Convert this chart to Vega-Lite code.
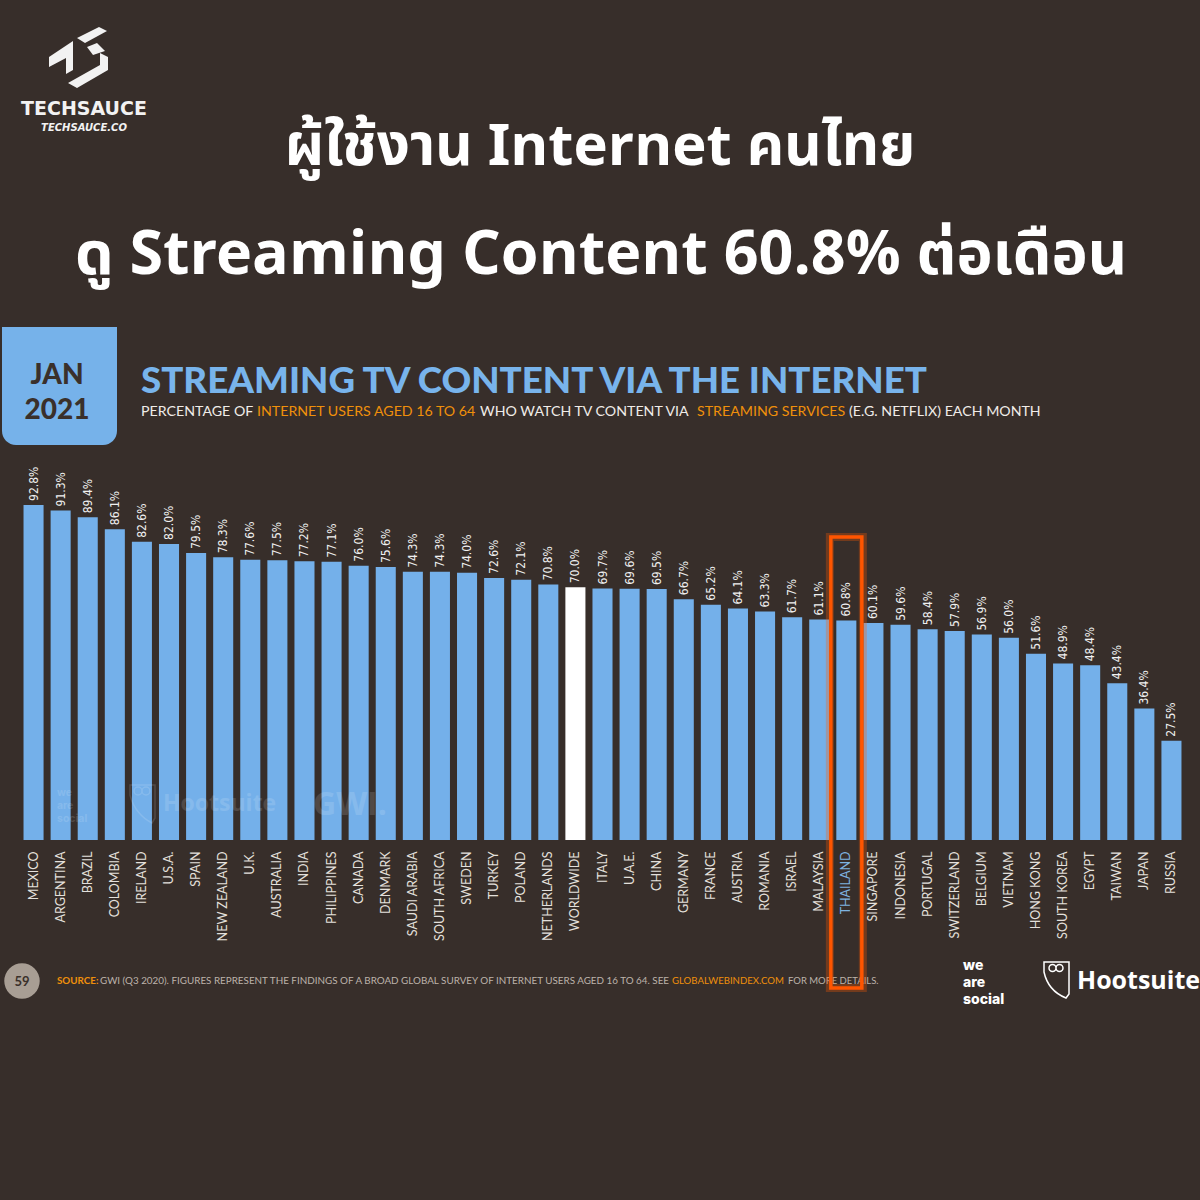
{
  "$schema": "https://vega.github.io/schema/vega-lite/v6.json",
  "autosize": {"type": "none"},
  "width": 1165,
  "height": 361,
  "padding": {"left": 20, "top": 479, "right": 15, "bottom": 360},
  "background": "#372e2a",
  "config": {"view": {"stroke": null}},
  "datasets": {
    "streaming": [
      {"country": "MEXICO", "pct": 0.928},
      {"country": "ARGENTINA", "pct": 0.913},
      {"country": "BRAZIL", "pct": 0.894},
      {"country": "COLOMBIA", "pct": 0.861},
      {"country": "IRELAND", "pct": 0.826},
      {"country": "U.S.A.", "pct": 0.820},
      {"country": "SPAIN", "pct": 0.795},
      {"country": "NEW ZEALAND", "pct": 0.783},
      {"country": "U.K.", "pct": 0.776},
      {"country": "AUSTRALIA", "pct": 0.775},
      {"country": "INDIA", "pct": 0.772},
      {"country": "PHILIPPINES", "pct": 0.771},
      {"country": "CANADA", "pct": 0.760},
      {"country": "DENMARK", "pct": 0.756},
      {"country": "SAUDI ARABIA", "pct": 0.743},
      {"country": "SOUTH AFRICA", "pct": 0.743},
      {"country": "SWEDEN", "pct": 0.740},
      {"country": "TURKEY", "pct": 0.726},
      {"country": "POLAND", "pct": 0.721},
      {"country": "NETHERLANDS", "pct": 0.708},
      {"country": "WORLDWIDE", "pct": 0.700},
      {"country": "ITALY", "pct": 0.697},
      {"country": "U.A.E.", "pct": 0.696},
      {"country": "CHINA", "pct": 0.695},
      {"country": "GERMANY", "pct": 0.667},
      {"country": "FRANCE", "pct": 0.652},
      {"country": "AUSTRIA", "pct": 0.641},
      {"country": "ROMANIA", "pct": 0.633},
      {"country": "ISRAEL", "pct": 0.617},
      {"country": "MALAYSIA", "pct": 0.611},
      {"country": "THAILAND", "pct": 0.608},
      {"country": "SINGAPORE", "pct": 0.601},
      {"country": "INDONESIA", "pct": 0.596},
      {"country": "PORTUGAL", "pct": 0.584},
      {"country": "SWITZERLAND", "pct": 0.579},
      {"country": "BELGIUM", "pct": 0.569},
      {"country": "VIETNAM", "pct": 0.560},
      {"country": "HONG KONG", "pct": 0.516},
      {"country": "SOUTH KOREA", "pct": 0.489},
      {"country": "EGYPT", "pct": 0.484},
      {"country": "TAIWAN", "pct": 0.434},
      {"country": "JAPAN", "pct": 0.364},
      {"country": "RUSSIA", "pct": 0.275}
    ]
  },
  "layer": [
    {
      "data": {"name": "streaming"},
      "mark": {"type": "bar"},
      "encoding": {
        "x": {
          "field": "country", "type": "nominal", "sort": null,
          "scale": {"paddingInner": 0.26, "paddingOuter": 0.13},
          "axis": {
            "title": null, "domain": false, "ticks": false, "labelAngle": 270,
            "labelPadding": 11, "labelFont": "Lato", "labelFontSize": 12.5,
            "labelColor": {"condition": {"test": "datum.value == 'THAILAND'", "value": "#7fb3e0"}, "value": "#e4e0dc"},
            "labelLimit": 200
          }
        },
        "y": {"field": "pct", "type": "quantitative", "scale": {"domain": [0, 1]}, "axis": null},
        "color": {
          "condition": {"test": "datum.country == 'WORLDWIDE'", "value": "#ffffff"},
          "value": "#74b0ea"
        }
      }
    },
    {
      "data": {"name": "streaming"},
      "mark": {"type": "text", "angle": 270, "align": "left", "baseline": "middle", "dx": 4, "font": "DejaVu Sans Condensed, Liberation Sans Narrow, Roboto", "fontSize": 12, "color": "#f0f0f0"},
      "encoding": {
        "x": {"field": "country", "type": "nominal", "sort": null},
        "y": {"field": "pct", "type": "quantitative"},
        "text": {"field": "pct", "format": ".1%"}
      }
    },
    {
      "data": {"values": [{}]},
      "mark": {"type": "text", "text": ["we", "are", "social"], "x": 37, "y": 317, "lineHeight": 13, "align": "left", "baseline": "alphabetic", "font": "Inter", "fontWeight": "bold", "fontSize": 10.5, "color": "#ffffff", "opacity": 0.13},
      "encoding": {}
    },
    {
      "data": {"values": [{}]},
      "mark": {"type": "point", "x": -20, "y": -479, "size": 4, "filled": false, "opacity": 0.13, "color": "#ffffff", "strokeWidth": 1.5,
        "shape": "M130,785 L155,785 L155,818 L152,823 C142,818 133,808 130,795 Z M134,791 a4,4 0 1,0 8,0 a4,4 0 1,0 -8,0 M142,791 a4,4 0 1,0 8,0 a4,4 0 1,0 -8,0"},
      "encoding": {}
    },
    {
      "data": {"values": [{}]},
      "mark": {"type": "text", "text": "Hootsuite", "x": 143, "y": 332, "align": "left", "baseline": "alphabetic", "font": "Open Sans", "fontWeight": "bold", "fontSize": 23, "color": "#ffffff", "opacity": 0.13},
      "encoding": {}
    },
    {
      "data": {"values": [{}]},
      "mark": {"type": "text", "text": "GWI.", "x": 293, "y": 336, "align": "left", "baseline": "alphabetic", "font": "Open Sans", "fontWeight": "bold", "fontSize": 32, "color": "#ffffff", "opacity": 0.13},
      "encoding": {}
    },
    {
      "data": {"values": [{}]},
      "mark": {"type": "point", "x": -20, "y": -479, "size": 4, "filled": true, "opacity": 1, "color": "#f2f2f2", "strokeWidth": 0,
        "shape": "M49,57 L73,41 L73,70 L66,74 L66,58 L49,67 Z M77,38 L99,27 L107,31 L85,43 Z M87,47 L97,43 L105,51 L93,55 Z M100,53 L108,57 L108,70 L77,88 L68,83 L100,65 Z"},
      "encoding": {}
    },
    {
      "data": {"values": [{}]},
      "mark": {"type": "text", "text": "TECHSAUCE", "x": 64, "y": -364, "align": "center", "baseline": "alphabetic", "font": "DejaVu Sans", "fontWeight": "bold", "fontSize": 19, "color": "#f2f2f2"},
      "encoding": {}
    },
    {
      "data": {"values": [{}]},
      "mark": {"type": "text", "text": "TECHSAUCE.CO", "x": 64, "y": -348, "align": "center", "baseline": "alphabetic", "font": "DejaVu Sans", "fontWeight": "bold", "fontStyle": "italic", "fontSize": 10, "color": "#f2f2f2"},
      "encoding": {}
    },
    {
      "data": {"values": [{}]},
      "mark": {"type": "text", "text": "ผู้ใช้งาน Internet คนไทย", "x": 580, "y": -314, "align": "center", "baseline": "alphabetic", "font": "Noto Sans Thai, Kanit, Noto Sans", "fontWeight": "bold", "fontSize": 58, "color": "#ffffff"},
      "encoding": {}
    },
    {
      "data": {"values": [{}]},
      "mark": {"type": "text", "text": "ดู Streaming Content 60.8% ต่อเดือน", "x": 581, "y": -205, "align": "center", "baseline": "alphabetic", "font": "Noto Sans Thai, Kanit, Noto Sans", "fontWeight": "bold", "fontSize": 61, "color": "#ffffff"},
      "encoding": {}
    },
    {
      "data": {"values": [{}]},
      "mark": {"type": "rect", "x": -18, "x2": 97, "y": -152, "y2": -34, "cornerRadiusBottomLeft": 14, "cornerRadiusBottomRight": 14, "color": "#76b2ea"},
      "encoding": {}
    },
    {
      "data": {"values": [{}]},
      "mark": {"type": "text", "text": "JAN", "x": 37, "y": -95, "align": "center", "baseline": "alphabetic", "font": "Lato", "fontWeight": 900, "fontSize": 28, "color": "#3a302b"},
      "encoding": {}
    },
    {
      "data": {"values": [{}]},
      "mark": {"type": "text", "text": "2021", "x": 37, "y": -60, "align": "center", "baseline": "alphabetic", "font": "Lato", "fontWeight": 900, "fontSize": 28, "color": "#3a302b"},
      "encoding": {}
    },
    {
      "data": {"values": [{}]},
      "mark": {"type": "text", "text": "STREAMING TV CONTENT VIA THE INTERNET", "x": 121, "y": -86, "align": "left", "baseline": "alphabetic", "font": "Lato", "fontWeight": 900, "fontSize": 36.7, "color": "#78b4ec"},
      "encoding": {}
    },
    {
      "data": {"values": [{}]},
      "mark": {"type": "text", "text": "PERCENTAGE OF", "x": 121, "y": -63, "align": "left", "baseline": "alphabetic", "font": "Lato", "fontSize": 14.2, "color": "#f0ece8"},
      "encoding": {}
    },
    {
      "data": {"values": [{}]},
      "mark": {"type": "text", "text": "INTERNET USERS AGED 16 TO 64", "x": 237, "y": -63, "align": "left", "baseline": "alphabetic", "font": "Lato", "fontSize": 14.2, "color": "#f0900a"},
      "encoding": {}
    },
    {
      "data": {"values": [{}]},
      "mark": {"type": "text", "text": "WHO WATCH TV CONTENT VIA", "x": 460, "y": -63, "align": "left", "baseline": "alphabetic", "font": "Lato", "fontSize": 14.2, "color": "#f0ece8"},
      "encoding": {}
    },
    {
      "data": {"values": [{}]},
      "mark": {"type": "text", "text": "STREAMING SERVICES", "x": 677, "y": -63, "align": "left", "baseline": "alphabetic", "font": "Lato", "fontSize": 14.2, "color": "#f0900a"},
      "encoding": {}
    },
    {
      "data": {"values": [{}]},
      "mark": {"type": "text", "text": "(E.G. NETFLIX) EACH MONTH", "x": 829, "y": -63, "align": "left", "baseline": "alphabetic", "font": "Lato", "fontSize": 14.2, "color": "#f0ece8"},
      "encoding": {}
    },
    {
      "data": {"values": [{}]},
      "mark": {"type": "point", "x": 2, "y": 502, "size": 1257, "shape": "circle", "filled": true, "opacity": 1, "color": "#a89e94"},
      "encoding": {}
    },
    {
      "data": {"values": [{}]},
      "mark": {"type": "text", "text": "59", "x": 2, "y": 507, "align": "center", "baseline": "alphabetic", "font": "Lato", "fontWeight": "bold", "fontSize": 13, "color": "#3a302a"},
      "encoding": {}
    },
    {
      "data": {"values": [{}]},
      "mark": {"type": "text", "text": "SOURCE:", "x": 37, "y": 505, "align": "left", "baseline": "alphabetic", "font": "Lato", "fontWeight": "bold", "fontSize": 9.8, "color": "#f0900a"},
      "encoding": {}
    },
    {
      "data": {"values": [{}]},
      "mark": {"type": "text", "text": "GWI (Q3 2020). FIGURES REPRESENT THE FINDINGS OF A BROAD GLOBAL SURVEY OF INTERNET USERS AGED 16 TO 64. SEE", "x": 80, "y": 505, "align": "left", "baseline": "alphabetic", "font": "Lato", "fontSize": 9.85, "color": "#bdb3aa"},
      "encoding": {}
    },
    {
      "data": {"values": [{}]},
      "mark": {"type": "text", "text": "GLOBALWEBINDEX.COM", "x": 652, "y": 505, "align": "left", "baseline": "alphabetic", "font": "Lato", "fontSize": 9.6, "color": "#f0900a"},
      "encoding": {}
    },
    {
      "data": {"values": [{}]},
      "mark": {"type": "text", "text": "FOR MORE DETAILS.", "x": 768, "y": 505, "align": "left", "baseline": "alphabetic", "font": "Lato", "fontSize": 9.5, "color": "#bdb3aa"},
      "encoding": {}
    },
    {
      "data": {"values": [{}]},
      "mark": {"type": "text", "text": ["we", "are", "social"], "x": 943, "y": 491, "lineHeight": 17, "align": "left", "baseline": "alphabetic", "font": "Inter", "fontWeight": 800, "fontSize": 14, "color": "#ffffff"},
      "encoding": {}
    },
    {
      "data": {"values": [{}]},
      "mark": {"type": "point", "x": -20, "y": -479, "size": 4, "filled": false, "opacity": 1, "color": "#ffffff", "strokeWidth": 1.5,
        "shape": "M1044,962 L1069,962 L1069,994 L1066,998 C1056,994 1047,986 1044,972 Z M1049,968 a3.5,3.5 0 1,0 7,0 a3.5,3.5 0 1,0 -7,0 M1056,968 a3.5,3.5 0 1,0 7,0 a3.5,3.5 0 1,0 -7,0"},
      "encoding": {}
    },
    {
      "data": {"values": [{}]},
      "mark": {"type": "text", "text": "Hootsuite", "x": 1057, "y": 510, "align": "left", "baseline": "alphabetic", "font": "Open Sans", "fontWeight": "bold", "fontSize": 25, "color": "#ffffff"},
      "encoding": {}
    },
    {
      "data": {"name": "streaming"},
      "transform": [{"filter": "datum.country == 'THAILAND'"}],
      "mark": {"type": "bar", "width": 33, "fill": "#ff5a00", "fillOpacity": 0, "stroke": "#ff5a00", "strokeWidth": 8, "strokeOpacity": 0.3},
      "encoding": {
        "x": {"field": "country", "type": "nominal", "sort": null},
        "y": {"datum": 0.839},
        "y2": {"datum": -0.41}
      }
    },
    {
      "data": {"name": "streaming"},
      "transform": [{"filter": "datum.country == 'THAILAND'"}],
      "mark": {"type": "bar", "width": 31, "fill": "#ff5a00", "fillOpacity": 0, "stroke": "#ff5500", "strokeWidth": 3.5},
      "encoding": {
        "x": {"field": "country", "type": "nominal", "sort": null},
        "y": {"datum": 0.839},
        "y2": {"datum": -0.41}
      }
    }
  ]
}
